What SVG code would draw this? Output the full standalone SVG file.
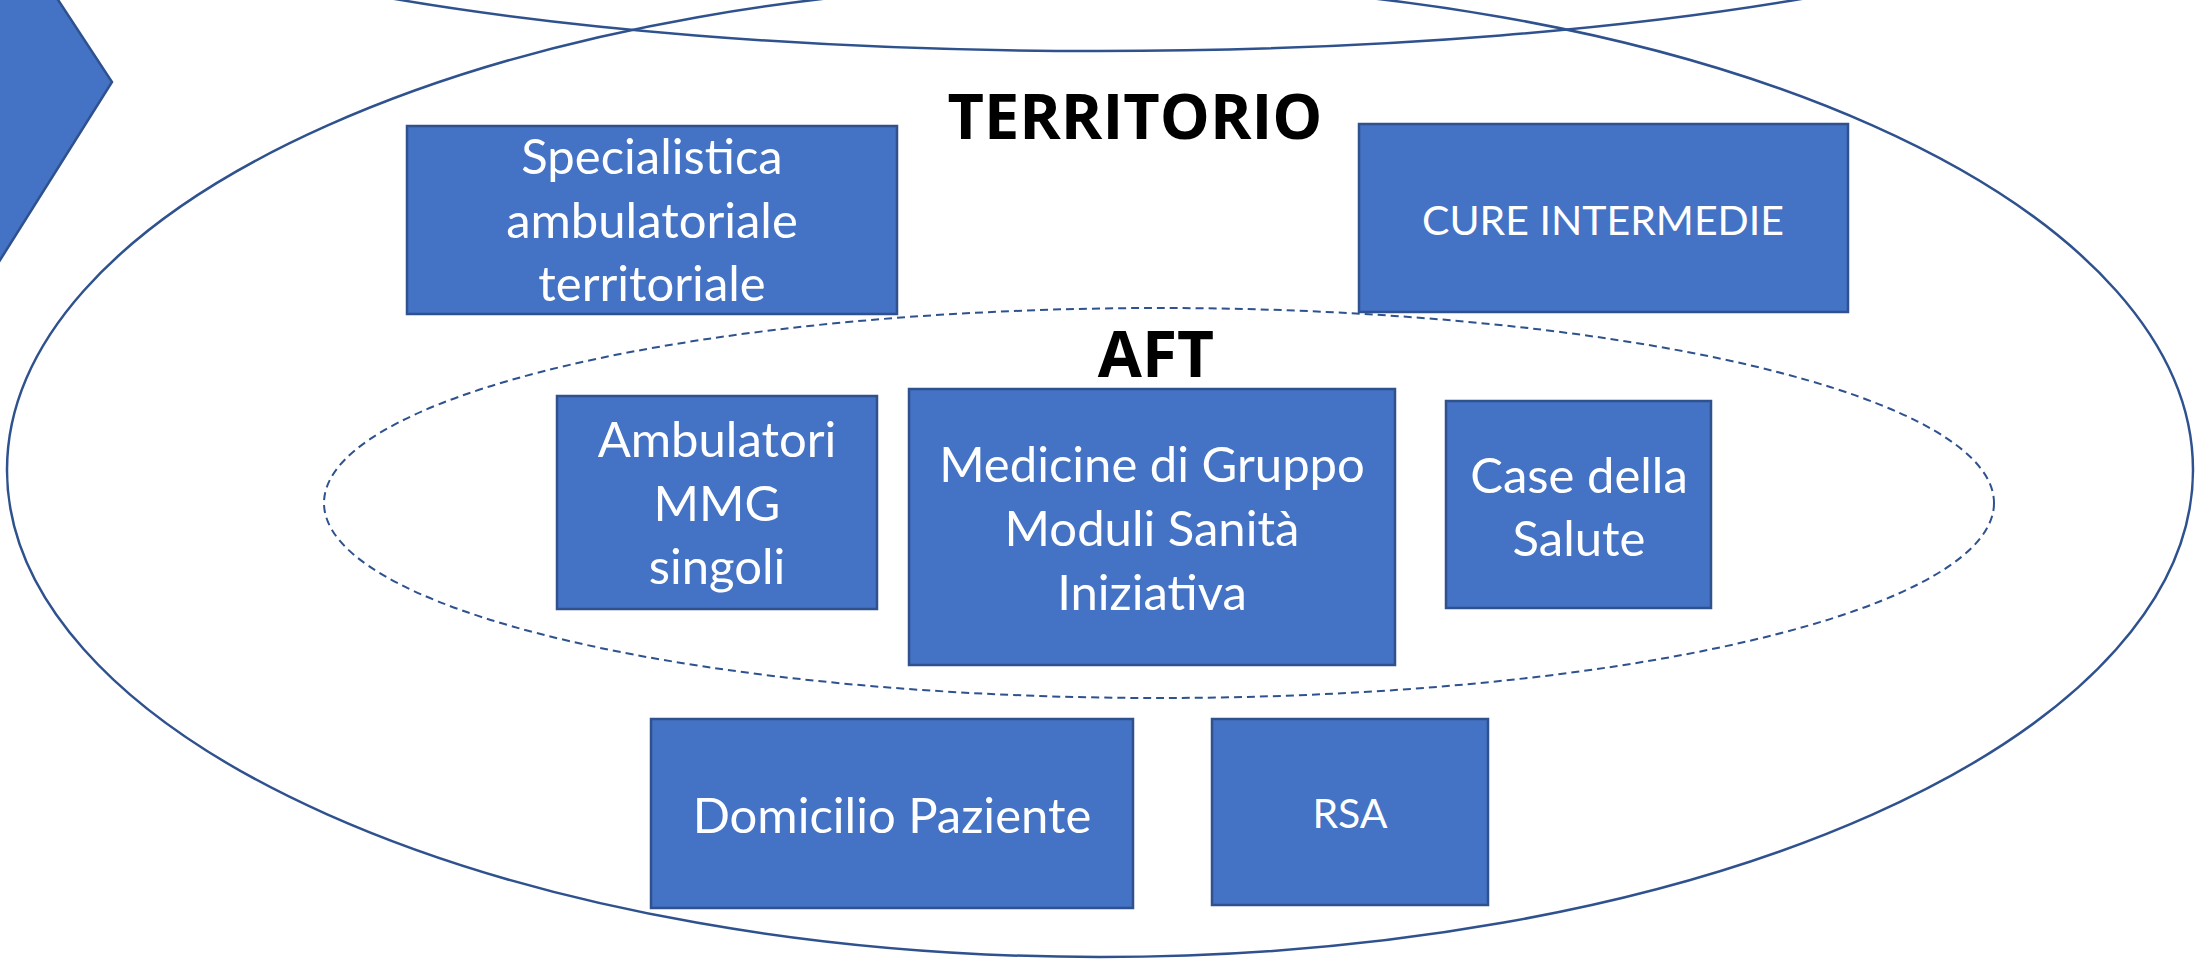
<svg xmlns="http://www.w3.org/2000/svg" width="2203" height="959" viewBox="0 0 2203 959">
<style>
.box{fill:#4472C4;stroke:#2F528F;stroke-width:2.5}
.ring{fill:none;stroke:#2F528F;stroke-width:2.5}
.dash{fill:none;stroke:#2F528F;stroke-width:2;stroke-dasharray:8 5}
.t{font-family:Lato,"Open Sans","Liberation Sans",sans-serif;fill:#FFFFFF;text-anchor:middle;font-size:49px}
.s{font-size:41px}
.h{font-family:"Open Sans",Lato,"Liberation Sans",sans-serif;font-weight:bold;fill:#000000;text-anchor:middle}
</style>
<rect width="2203" height="959" fill="#FFFFFF"/>
<g id="arrow"><polygon class="box" points="-20,-20 45,-20 112,82 -20,292"/></g>
<g id="outlines">
<ellipse class="ring" cx="1098" cy="-171" rx="1093" ry="222"/>
<ellipse class="ring" cx="1100" cy="470" rx="1093" ry="487"/>
<ellipse class="dash" cx="1159" cy="503" rx="835" ry="195"/>
</g>
<g id="territorio"><text class="h" x="1135" y="139" font-size="63">TERRITORIO</text></g>
<g id="aft"><text class="h" x="1156" y="377" font-size="64">AFT</text></g>
<g id="specialistica">
<rect class="box" x="407" y="126" width="490" height="188"/>
<text class="t" x="652" y="174">Specialistica</text>
<text class="t" x="652" y="238">ambulatoriale</text>
<text class="t" x="652" y="301">territoriale</text>
</g>
<g id="cure">
<rect class="box" x="1359" y="124" width="489" height="188"/>
<text class="t s" x="1603" y="235">CURE INTERMEDIE</text>
</g>
<g id="ambulatori">
<rect class="box" x="557" y="396" width="320" height="213"/>
<text class="t" x="717" y="457">Ambulatori</text>
<text class="t" x="717" y="521">MMG</text>
<text class="t" x="717" y="584">singoli</text>
</g>
<g id="medicine">
<rect class="box" x="909" y="389" width="486" height="276"/>
<text class="t" x="1152" y="482">Medicine di Gruppo</text>
<text class="t" x="1152" y="546">Moduli Sanità</text>
<text class="t" x="1152" y="610">Iniziativa</text>
</g>
<g id="case">
<rect class="box" x="1446" y="401" width="265" height="207"/>
<text class="t" x="1579" y="493">Case della</text>
<text class="t" x="1579" y="556">Salute</text>
</g>
<g id="domicilio">
<rect class="box" x="651" y="719" width="482" height="189"/>
<text class="t" x="892" y="833">Domicilio Paziente</text>
</g>
<g id="rsa">
<rect class="box" x="1212" y="719" width="276" height="186"/>
<text class="t s" x="1350" y="828">RSA</text>
</g>
</svg>
